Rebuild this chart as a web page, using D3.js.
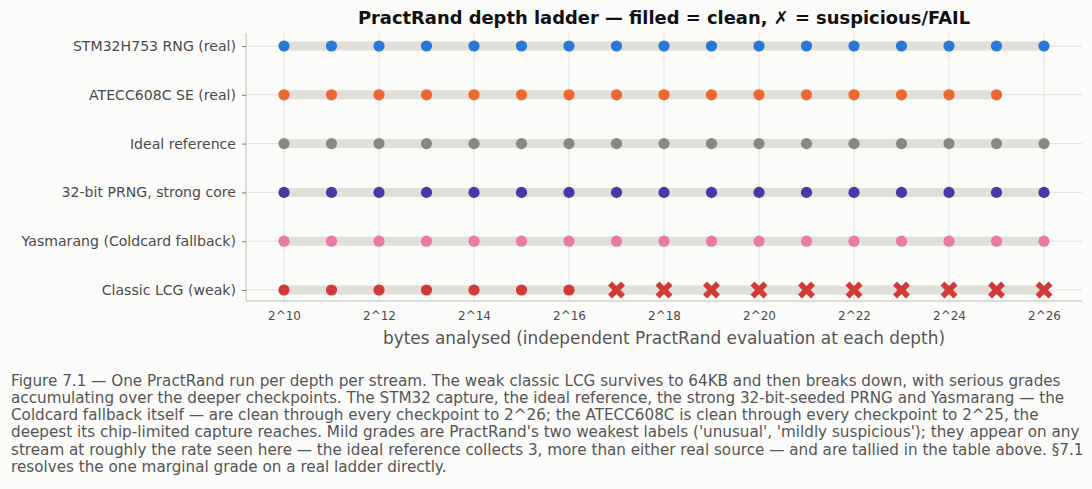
<!DOCTYPE html>
<html>
<head>
<meta charset="utf-8">
<script src="https://cdn.jsdelivr.net/npm/d3@7"></script>
<style>
  body { margin: 0; background: #fbfbf9; }
  svg { display: block; font-family: "DejaVu Sans", sans-serif; }
</style>
</head>
<body>
<div class="chart-holder"></div>
<script>
const streams = ["STM32H753 RNG (real)", "ATECC608C SE (real)", "Ideal reference",
  "32-bit PRNG, strong core", "Yasmarang (Coldcard fallback)", "Classic LCG (weak)"];
const colors = ["#2a78d6", "#eb6834", "#888883", "#4a37a6", "#e979a6", "#d23a3a"];
const depths = d3.range(10, 27);
// deepest checkpoint reached per stream
const maxDepth = [26, 25, 26, 26, 26, 26];
// first failing depth (null = clean throughout)
const failFrom = [null, null, null, null, null, 17];
const tickExps = [10, 12, 14, 16, 18, 20, 22, 24, 26];
const caption = [
  "Figure 7.1 — One PractRand run per depth per stream. The weak classic LCG survives to 64KB and then breaks down, with serious grades",
  "accumulating over the deeper checkpoints. The STM32 capture, the ideal reference, the strong 32-bit-seeded PRNG and Yasmarang — the",
  "Coldcard fallback itself — are clean through every checkpoint to 2^26; the ATECC608C is clean through every checkpoint to 2^25, the",
  "deepest its chip-limited capture reaches. Mild grades are PractRand's two weakest labels ('unusual', 'mildly suspicious'); they appear on any",
  "stream at roughly the rate seen here — the ideal reference collects 3, more than either real source — and are tallied in the table above. §7.1",
  "resolves the one marginal grade on a real ladder directly."
];

const width = 1092, height = 489;
const margin = { left: 246, right: 10, top: 33, bottom: 188 };

const svg = d3.select(".chart-holder").append("svg")
  .attr("width", width).attr("height", height);

const x = d3.scaleLinear().domain([9.2, 26.8]).range([margin.left, width - margin.right]);
const y = d3.scalePoint().domain(streams).range([46, 290]);

const g = svg.append("g");

// gridlines
g.selectAll(".vgrid").data(tickExps).join("line")
  .attr("x1", d => x(d)).attr("x2", d => x(d))
  .attr("y1", margin.top).attr("y2", height - margin.bottom)
  .attr("stroke", "#e2e1dc").attr("stroke-width", 1);
g.selectAll(".hgrid").data(streams).join("line")
  .attr("x1", margin.left).attr("x2", width - margin.right)
  .attr("y1", d => y(d)).attr("y2", d => y(d))
  .attr("stroke", "#e2e1dc").attr("stroke-width", 1);

// ladder bars
g.selectAll(".bar").data(streams).join("line")
  .attr("x1", x(10)).attr("x2", (d, i) => x(maxDepth[i]))
  .attr("y1", d => y(d)).attr("y2", d => y(d))
  .attr("stroke", "#e0dfd8").attr("stroke-width", 9);

// points
const pts = [];
streams.forEach((s, i) => {
  depths.filter(dp => dp <= maxDepth[i]).forEach(dp => {
    pts.push({ s, i, dp, fail: failFrom[i] !== null && dp >= failFrom[i] });
  });
});

g.selectAll(".pt").data(pts.filter(p => !p.fail)).join("circle")
  .attr("cx", d => x(d.dp)).attr("cy", d => y(d.s)).attr("r", 5.6)
  .attr("fill", d => colors[d.i]);

// filled X marker
const s = 8.5, a = 4;
const xShape = `M${-s},${-s + a} L${-s + a},${-s} L0,${-a} L${s - a},${-s} L${s},${-s + a} L${a},0 ` +
  `L${s},${s - a} L${s - a},${s} L0,${a} L${-s + a},${s} L${-s},${s - a} L${-a},0 Z`;
g.selectAll(".fail").data(pts.filter(p => p.fail)).join("path")
  .attr("d", xShape)
  .attr("transform", d => `translate(${x(d.dp)},${y(d.s)})`)
  .attr("fill", d => colors[d.i]);

// axes
const axisColor = "#bdbcb2";
const yAxis = svg.append("g").attr("transform", `translate(${margin.left},0)`)
  .call(d3.axisLeft(y).tickSize(4).tickPadding(6));
yAxis.select(".domain").attr("d", `M0,${margin.top}V${height - margin.bottom}`).attr("stroke", axisColor);
yAxis.selectAll(".tick line").attr("stroke", "#7a7a75");
yAxis.selectAll("text").attr("font-size", 14.1).attr("fill", "#4a4a4a")
  .attr("font-family", "DejaVu Sans, sans-serif");

const xAxis = svg.append("g").attr("transform", `translate(0,${height - margin.bottom})`)
  .call(d3.axisBottom(x).tickValues(tickExps).tickFormat(d => "2^" + d).tickSize(0).tickPadding(10));
xAxis.select(".domain").attr("d", `M${margin.left},0H${width - margin.right}`).attr("stroke", axisColor);
xAxis.selectAll("text").attr("font-size", 12).attr("fill", "#4a4a4a")
  .attr("font-family", "DejaVu Sans, sans-serif");

svg.append("text").attr("x", (margin.left + width - margin.right) / 2).attr("y", 344)
  .attr("text-anchor", "middle").attr("font-size", 16.9).attr("fill", "#555")
  .text("bytes analysed (independent PractRand evaluation at each depth)");

svg.append("text").attr("x", (margin.left + width - margin.right) / 2).attr("y", 24)
  .attr("text-anchor", "middle").attr("font-size", 17.9).attr("font-weight", "bold").attr("fill", "#111")
  .text("PractRand depth ladder — filled = clean, ✗ = suspicious/FAIL");

svg.append("text").attr("font-size", 15.2).attr("fill", "#555")
  .selectAll("tspan").data(caption).join("tspan")
  .attr("x", 11).attr("y", (d, i) => 385.5 + i * 17.3)
  .text(d => d);
</script>
</body>
</html>
